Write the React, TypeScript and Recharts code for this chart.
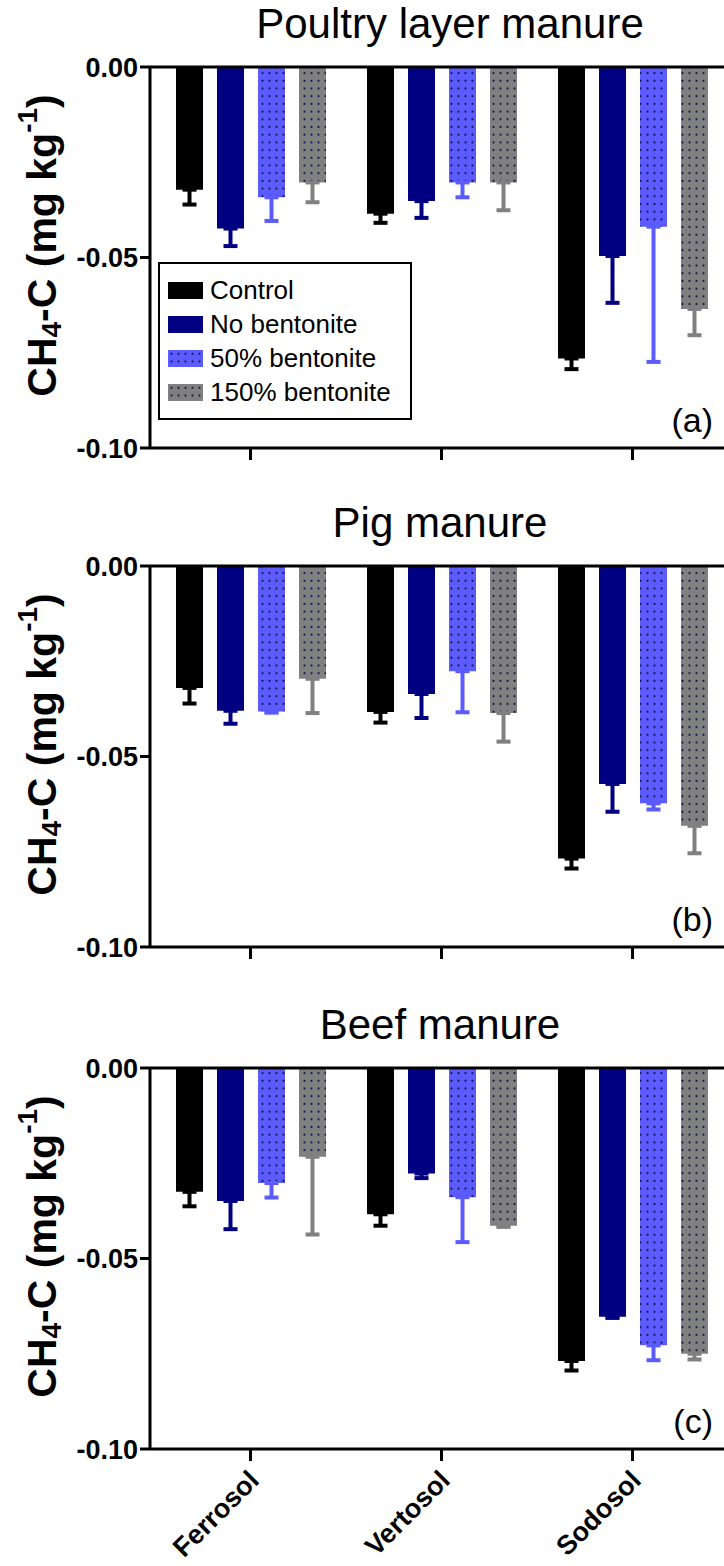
import React from 'react';
import { BarChart, Bar, XAxis, YAxis, ErrorBar, ReferenceLine } from 'recharts';

const soils = ['Ferrosol', 'Vertosol', 'Sodosol'];
const seriesNames = ['Control', 'No bentonite', '50% bentonite', '150% bentonite'];
const yTicks = [0, -0.05, -0.1];

// (a) poultry layer manure, means and lower error (SE)
const poultryControl = [-0.0322, -0.0385, -0.0765];
const poultryControlErr = [0.0039, 0.0024, 0.0028];
const poultryNoBent = [-0.0424, -0.0352, -0.0496];
const poultryNoBentErr = [0.0046, 0.0044, 0.0123];
const poultryBent50 = [-0.0342, -0.0303, -0.0419];
const poultryBent50Err = [0.0062, 0.0039, 0.0355];
const poultryBent150 = [-0.0303, -0.0303, -0.0635];
const poultryBent150Err = [0.0052, 0.0073, 0.0069];

// (b) pig manure
const pigControl = [-0.032, -0.0383, -0.0768];
const pigControlErr = [0.0041, 0.0028, 0.0026];
const pigNoBent = [-0.038, -0.0336, -0.0572];
const pigNoBentErr = [0.0034, 0.0063, 0.0073];
const pigBent50 = [-0.0382, -0.0276, -0.0623];
const pigBent50Err = [0.0003, 0.0108, 0.0016];
const pigBent150 = [-0.0296, -0.0386, -0.0682];
const pigBent150Err = [0.009, 0.0075, 0.0072];

// (c) beef manure
const beefControl = [-0.0325, -0.0384, -0.0769];
const beefControlErr = [0.0038, 0.003, 0.0025];
const beefNoBent = [-0.0349, -0.0277, -0.0653];
const beefNoBentErr = [0.0074, 0.0012, 0.0003];
const beefBent50 = [-0.0302, -0.0339, -0.0728];
const beefBent50Err = [0.0038, 0.0118, 0.0039];
const beefBent150 = [-0.0233, -0.0414, -0.075];
const beefBent150Err = [0.0204, 0.0003, 0.0015];

const keys = ['control', 'noBent', 'bent50', 'bent150'];
const barColors = ['#000000', '#000080', '#5b5bff', '#808080'];
const dotColor = '#15154f';
const FONT = '"Liberation Sans", Arial, sans-serif';

function buildRows(means: number[][], errs: number[][]) {
  return soils.map((soil, i) => {
    const row: any = { soil };
    keys.forEach((k, s) => {
      row[k] = means[s][i];
      row[k + 'Err'] = [errs[s][i], 0];
    });
    return row;
  });
}

const poultryRows = buildRows(
  [poultryControl, poultryNoBent, poultryBent50, poultryBent150],
  [poultryControlErr, poultryNoBentErr, poultryBent50Err, poultryBent150Err]
);
const pigRows = buildRows(
  [pigControl, pigNoBent, pigBent50, pigBent150],
  [pigControlErr, pigNoBentErr, pigBent50Err, pigBent150Err]
);
const beefRows = buildRows(
  [beefControl, beefNoBent, beefBent50, beefBent150],
  [beefControlErr, beefNoBentErr, beefBent50Err, beefBent150Err]
);

const DotPattern = ({ id, color }: { id: string; color: string }) => (
  <pattern id={id} width={7} height={7.7} patternUnits="userSpaceOnUse">
    <rect width={7} height={7.7} fill={color} />
    <circle cx={3.5} cy={3.8} r={1.1} fill={dotColor} />
  </pattern>
);

const EmptyTick = () => <g />;

const SoilTick = ({ x, y, payload }: any) => (
  <g transform={`translate(${x + 10},${y + 19}) rotate(-45)`}>
    <text x={0} y={0} textAnchor="end" fontSize={27} fontWeight="bold" fill="#000" fontFamily={FONT}>
      {payload.value}
    </text>
  </g>
);

const YLabel = ({ viewBox }: any) => {
  const cx = 42;
  const cy = viewBox.y + viewBox.height / 2 - 12;
  return (
    <text
      x={cx}
      y={cy}
      transform={`rotate(-90, ${cx}, ${cy})`}
      textAnchor="middle"
      dominantBaseline="central"
      fontSize={41}
      fontWeight="bold"
      fill="#000"
      fontFamily={FONT}
    >
      CH
      <tspan fontSize={28} dy={9}>4</tspan>
      <tspan dy={-9}>-C (mg kg</tspan>
      <tspan fontSize={28} dy={-15}>-1</tspan>
      <tspan dy={15}>)</tspan>
    </text>
  );
};

const LegendBox = () => (
  <div
    style={{
      position: 'absolute',
      left: 158,
      top: 262,
      width: 254,
      height: 158,
      border: '2px solid #000',
      boxSizing: 'border-box',
      background: '#fff',
      paddingTop: 9,
      fontFamily: FONT,
    }}
  >
    {seriesNames.map((name, i) => (
      <div key={name} style={{ display: 'flex', alignItems: 'center', height: 34 }}>
        <svg width={35} height={17} style={{ marginLeft: 8 }}>
          <defs>
            <DotPattern id={`leg${i}`} color={barColors[i]} />
          </defs>
          <rect width={35} height={17} fill={i >= 2 ? `url(#leg${i})` : barColors[i]} />
        </svg>
        <span style={{ marginLeft: 7, fontSize: 26, color: '#000', lineHeight: '30px' }}>{name}</span>
      </div>
    ))}
  </div>
);

interface PanelProps {
  id: string;
  top: number;
  height: number;
  plotTop: number;
  xAxisHeight: number;
  title: string;
  titleCenter: number;
  tag: string;
  rows: any[];
  labels?: boolean;
  legend?: boolean;
}

function Panel({ id, top, height, plotTop, xAxisHeight, title, titleCenter, tag, rows, labels, legend }: PanelProps) {
  const plotBottom = plotTop + 381;
  return (
    <div style={{ position: 'absolute', left: 0, top, width: 728, height }}>
      <div
        style={{
          position: 'absolute',
          left: titleCenter - 300,
          width: 600,
          top: plotTop - top - 67,
          textAlign: 'center',
          fontSize: 42,
          lineHeight: '48px',
          fontFamily: FONT,
          color: '#000',
        }}
      >
        {title}
      </div>
      <BarChart
        width={728}
        height={height}
        data={rows}
        margin={{ top: plotTop - top, right: 0, left: 0, bottom: 0 }}
        barGap={14}
      >
        <defs>
          <DotPattern id={`d50${id}`} color={barColors[2]} />
          <DotPattern id={`d150${id}`} color={barColors[3]} />
        </defs>
        <XAxis
          dataKey="soil"
          padding={{ left: 5, right: 0 }}
          height={xAxisHeight}
          interval={0}
          tickSize={12}
          axisLine={{ stroke: '#000', strokeWidth: 3 }}
          tickLine={{ stroke: '#000', strokeWidth: 3 }}
          tick={labels ? <SoilTick /> : <EmptyTick />}
        />
        <YAxis
          width={150}
          domain={[-0.1, 0]}
          ticks={yTicks}
          interval={0}
          allowDataOverflow
          tickSize={10}
          tickFormatter={(v: number) => (Math.abs(v) < 1e-9 ? '0.00' : v.toFixed(2))}
          tick={{ fontSize: 27, fontWeight: 'bold', fill: '#000', fontFamily: FONT }}
          axisLine={{ stroke: '#000', strokeWidth: 3 }}
          tickLine={{ stroke: '#000', strokeWidth: 3 }}
          label={<YLabel />}
        />
        {keys.map((k, i) => (
          <Bar
            key={k}
            dataKey={k}
            name={seriesNames[i]}
            barSize={27}
            fill={i === 2 ? `url(#d50${id})` : i === 3 ? `url(#d150${id})` : barColors[i]}
            isAnimationActive={false}
          >
            <ErrorBar
              dataKey={k + 'Err'}
              direction="y"
              width={7}
              strokeWidth={4}
              stroke={barColors[i]}
              isAnimationActive={false}
            />
          </Bar>
        ))}
        <ReferenceLine y={0} stroke="#000" strokeWidth={3} />
      </BarChart>
      {legend && <LegendBox />}
      <div
        style={{
          position: 'absolute',
          right: 728 - 713,
          top: plotBottom - top - 28 - 20,
          fontSize: 34,
          lineHeight: '40px',
          fontFamily: FONT,
          color: '#000',
        }}
      >
        {tag}
      </div>
    </div>
  );
}

export default function App() {
  return (
    <div
      style={{
        position: 'absolute',
        left: 0,
        top: 0,
        width: 724,
        height: 1566,
        overflow: 'hidden',
        background: '#fff',
      }}
    >
      <Panel id="a" top={0} height={500} plotTop={67} xAxisHeight={52} title="Poultry layer manure" titleCenter={450} tag="(a)" rows={poultryRows} legend />
      <Panel id="b" top={500} height={500} plotTop={566} xAxisHeight={53} title="Pig manure" titleCenter={440} tag="(b)" rows={pigRows} />
      <Panel id="c" top={1000} height={566} plotTop={1068} xAxisHeight={117} title="Beef manure" titleCenter={440} tag="(c)" rows={beefRows} labels />
    </div>
  );
}
